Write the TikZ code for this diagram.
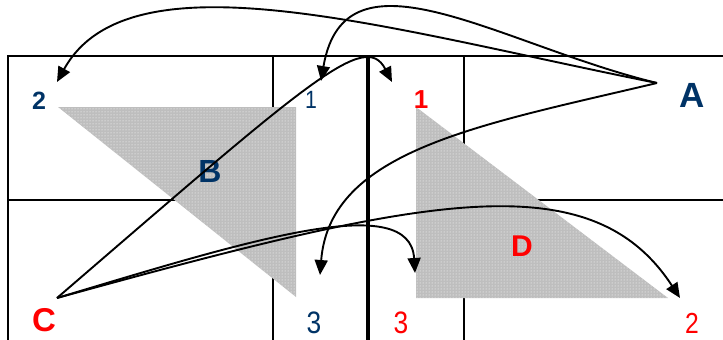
\documentclass[tikz,border=0pt]{standalone}
\usepackage{fontspec}
\setmainfont{Liberation Sans}
\newfontfamily\narrowfont[FakeStretch=0.85]{Liberation Sans}
\usetikzlibrary{arrows.meta,patterns}
\definecolor{labelblue}{RGB}{0,51,102}
\definecolor{labelred}{RGB}{255,0,0}
\definecolor{shade}{RGB}{190,190,190}
\tikzset{
  gridline/.style={line width=1.5pt},
  shaded/.style={fill=shade, postaction={pattern=dots, pattern color=white}},
  link/.style={line width=1.9pt, -{Triangle[length=15pt,width=13pt]}},
  tag/.style={inner sep=0pt, font=\bfseries\fontsize{#1}{#1}\selectfont},
  numtag/.style={inner sep=0pt, font=\narrowfont\fontsize{#1}{#1}\selectfont},
}

\begin{document}
\begin{tikzpicture}[x=1pt,y=-1pt]
\useasboundingbox (0,0) rectangle (723,340);

% grid
\draw[gridline] (8,340) -- (8,56) -- (723,56);
\draw[gridline] (273,56) -- (273,340);
\draw[gridline] (464,56) -- (464,340);
\draw[gridline] (8,200) -- (296,200);
\draw[gridline] (416,200) -- (723,200);
\draw[line width=3.5pt] (368,56) -- (368,340);

% shaded triangles
\fill[shaded] (58,107) -- (296,107) -- (296,297) -- cycle;
\fill[shaded] (416,107) -- (416,298) -- (668,298) -- cycle;

% labels
\node[tag=35,text=labelblue] (lblA) at (692,95) {A};
\node[tag=33,text=labelred] (lblC) at (44,320) {C};
\node[tag=32,text=labelblue] (lblB) at (210,171) {B};
\node[tag=30,text=labelred] (lblD) at (522,246) {D};
\node[tag=25,text=labelblue] (b2) at (39,101) {2};
\node[numtag=25,text=labelblue] (b1) at (311,100) {1};
\node[numtag=31,text=labelblue] (b3) at (314,323) {3};
\node[tag=26,text=labelred] (r1) at (421,100) {1};
\node[numtag=31,text=labelred] (r3) at (401,323) {3};
\node[numtag=29,text=labelred] (r2) at (692,323) {2};

% end points
\coordinate (a) at (657,83);
\coordinate (c) at (57,298);
\coordinate (to b2) at (57,82);
\coordinate (to b1) at (321,81);
\coordinate (to b3) at (320,275);
\coordinate (to r1) at (392,82);
\coordinate (to r3) at (415,273);
\coordinate (to r2) at (680,298);

% moves from A
\draw[link] (a) .. controls (390,30) and (130,-50) .. (to b2);
\draw[link] (a) .. controls (500,45) and (345,-60) .. (to b1);
\draw[link] (a) .. controls (480,125) and (330,150) .. (to b3);

% moves from C
\draw[link] (c) .. controls (310,80) and (365,30) .. (to r1);
\draw[link] (c) .. controls (250,240) and (410,190) .. (to r3);
\draw[link] (c) .. controls (420,198) and (590,160) .. (to r2);

\end{tikzpicture}
\end{document}
